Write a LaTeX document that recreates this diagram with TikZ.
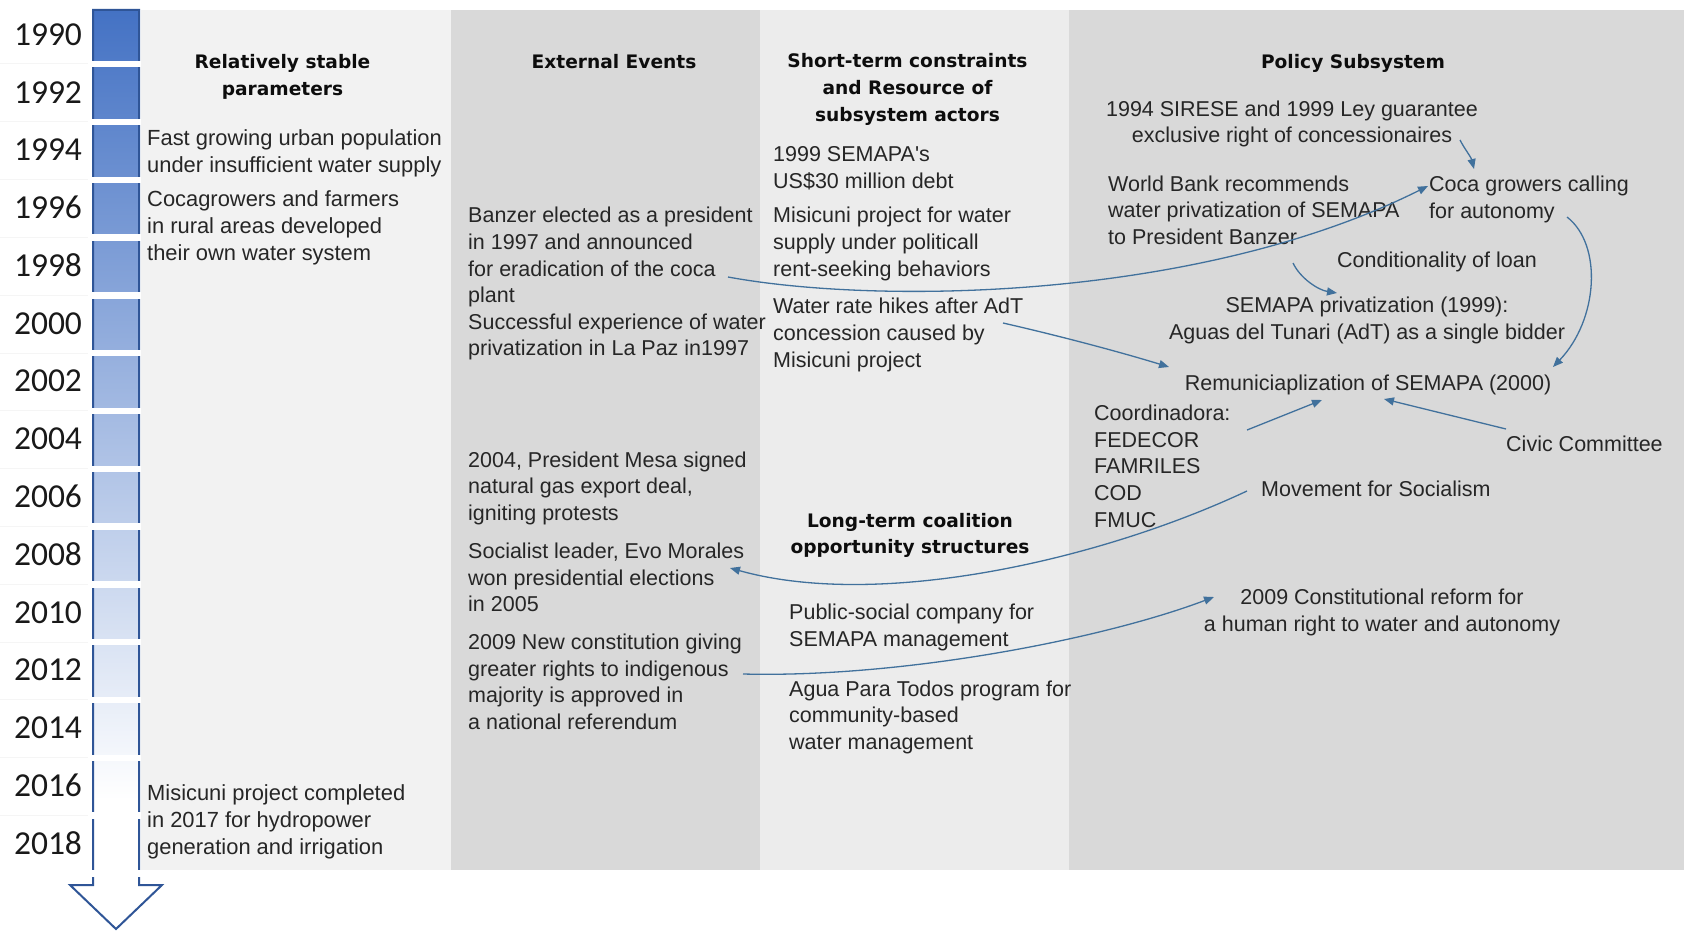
\documentclass[tikz,border=0pt]{standalone}
\usepackage{fontspec}
\setmainfont{Liberation Sans}
\newfontfamily\headfont{DejaVu Sans}
\newfontfamily\yearfont{Carlito}
\usetikzlibrary{arrows.meta}

\definecolor{paneA}{HTML}{F2F2F2}
\definecolor{paneB}{HTML}{D9D9D9}
\definecolor{paneC}{HTML}{ECECEC}
\definecolor{bodytext}{HTML}{262626}
\definecolor{linkblue}{HTML}{41719C}
\definecolor{barblue}{HTML}{4472C4}
\definecolor{baredge}{HTML}{2F5597}

% first-line struts, so every text block has the same top-to-baseline distance
\newcommand{\bodystrut}{\rule{0pt}{19pt}}
\newcommand{\headstrut}{\rule{0pt}{17pt}}

\tikzset{
  body/.style={font=\fontsize{21.5}{26.7}\selectfont, text=bodytext,
    inner sep=0pt, align=left, anchor=north west},
  bodywide/.style={body, font=\fontsize{21.9}{26.7}\selectfont},
  bodyc/.style={body, align=center, anchor=north},
  head/.style={font=\headfont\bfseries\fontsize{18.6}{26.7}\selectfont,
    text=black!95, inner sep=0pt, align=center, anchor=north},
  year/.style={font=\yearfont\fontsize{33.5}{40}\selectfont, text=black!90,
    inner sep=0pt},
  link/.style={draw=linkblue, line width=1.3pt,
    -{Triangle[length=10pt,width=8pt]}},
}

\begin{document}
\begin{tikzpicture}[x=1pt,y=-1pt]
\useasboundingbox (0,0) rectangle (1684,931);
\fill[white] (0,0) rectangle (1684,931);

% column panels
\fill[paneA] (141,10.5) rectangle (451,870);
\fill[paneB] (451,10.5) rectangle (760,870);
\fill[paneC] (760,10.5) rectangle (1069,870);
\fill[paneB] (1069,10.5) rectangle (1684,870);

% faint separators beside the year labels
\foreach \i in {0,...,13}
  \draw[black!4, line width=1pt] (0,{64+57.8*\i}) -- (92,{64+57.8*\i});

% timeline block arrow with fading fill
\begin{scope}
  \clip (93,10) -- (139,10) -- (139,885) -- (162,885) -- (116,929)
        -- (70,885) -- (93,885) -- cycle;
  \fill[white] (60,0) rectangle (170,931);
  \shade[top color=barblue, bottom color=white] (90,10) rectangle (142,800);
\end{scope}
\draw[baredge, line width=2pt, line join=miter]
  (93,10) -- (139,10) -- (139,885) -- (162,885) -- (116,929)
  -- (70,885) -- (93,885) -- cycle;
\foreach \i in {0,...,14}
  \fill[white] (88,{61+57.8*\i}) rectangle (141,{67.3+57.8*\i});

% year labels
\foreach \yr [count=\i from 0] in {1990,1992,1994,1996,1998,2000,2002,2004,
    2006,2008,2010,2012,2014,2016,2018}
  \node[year] (yr\yr) at (48,{34.4+57.8*\i}) {\yr};

% column headings
\node[head] (hstable) at (282.5,51.8) {\headstrut Relatively stable\\parameters};
\node[head] (hext) at (614,51.5) {\headstrut External Events};
\node[head] (hshort) at (907.5,50.8)
  {\headstrut Short-term constraints\\and Resource of\\subsystem actors};
\node[head] (hpolicy) at (1353,51.5) {\headstrut Policy Subsystem};
\node[head] (hlong) at (910,509.8)
  {\headstrut Long-term coalition\\opportunity structures};

% relatively stable parameters
\node[bodywide] (fastpop) at (147,126.5)
  {\bodystrut Fast growing urban population\\under insufficient water supply};
\node[bodywide] (cocafarm) at (147,187.5)
  {\bodystrut Cocagrowers and farmers\\in rural areas developed\\their own water system};
\node[bodywide] (misidone) at (147,781.5)
  {\bodystrut Misicuni project completed\\in 2017 for hydropower\\generation and irrigation};

% external events
\node[body] (banzer) at (468,203.5)
  {\bodystrut Banzer elected as a president\\in 1997 and announced\\for eradication of the coca\\plant};
\node[body] (lapaz) at (468,310)
  {\bodystrut Successful experience of water\\privatization in La Paz in1997};
\node[body] (mesa) at (468,447.8)
  {\bodystrut 2004, President Mesa signed\\natural gas export deal,\\igniting protests};
\node[body] (morales) at (468,539.2)
  {\bodystrut Socialist leader, Evo Morales\\won presidential elections\\in 2005};
\node[body] (newconst) at (468,630.2)
  {\bodystrut 2009 New constitution giving\\greater rights to indigenous\\majority is approved in\\a national referendum};

% short-term constraints and long-term structures
\node[body] (debt) at (773,142.5)
  {\bodystrut 1999 SEMAPA\textquotesingle s\\US\$30 million debt};
\node[body] (misiproj) at (773,203.5)
  {\bodystrut Misicuni project for water\\supply under politicall\\rent-seeking behaviors};
\node[body] (hikes) at (773,294.5)
  {\bodystrut Water rate hikes after AdT\\concession caused by\\Misicuni project};
\node[body] (pubsoc) at (789,600.2)
  {\bodystrut Public-social company for\\SEMAPA management};
\node[body] (apt) at (789,676.8)
  {\bodystrut Agua Para Todos program for\\community-based\\water management};

% policy subsystem
\node[bodyc] (sirese) at (1292,96.8)
  {\bodystrut 1994 SIRESE and 1999 Ley guarantee\\exclusive right of concessionaires};
\node[body] (worldbank) at (1108,171.8)
  {\bodystrut World Bank recommends\\water privatization of SEMAPA\\to President Banzer};
\node[body] (cocagrow) at (1429,172.5)
  {\bodystrut Coca growers calling\\for autonomy};
\node[body] (loan) at (1337,248.5) {\bodystrut Conditionality of loan};
\node[bodyc] (privat) at (1367,293.5)
  {\bodystrut SEMAPA privatization (1999):\\Aguas del Tunari (AdT) as a single bidder};
\node[bodyc] (remun) at (1368,371.2)
  {\bodystrut Remuniciaplization of SEMAPA (2000)};
\node[body] (coord) at (1094,401.2)
  {\bodystrut Coordinadora:\\FEDECOR\\FAMRILES\\COD\\FMUC};
\node[body] (civic) at (1506,431.8) {\bodystrut Civic Committee};
\node[body] (mas) at (1261,477.5) {\bodystrut Movement for Socialism};
\node[bodyc] (reform) at (1382,585.2)
  {\bodystrut 2009 Constitutional reform for\\a human right to water and autonomy};

% influence links
\draw[link] ([xshift=260pt,yshift=-73.5pt]banzer.north west)
  .. controls (880,305) and (1200,300) ..
  ([xshift=-1pt,yshift=-13.5pt]cocagrow.north west);
\draw[link] ([xshift=168pt,yshift=-43.2pt]sirese.north)
  .. controls (1464,148) and (1471,157) ..
  ([xshift=45pt,yshift=3.5pt]cocagrow.north west);
\draw[link] ([xshift=185pt,yshift=-91.2pt]worldbank.north west)
  .. controls (1300,278) and (1318,290) ..
  ([xshift=-30pt,yshift=0.5pt]privat.north);
\draw[link] ([xshift=138pt,yshift=-44.5pt]cocagrow.north west)
  .. controls (1603,245) and (1598,320) ..
  ([xshift=185pt,yshift=4.2pt]remun.north);
\draw[link] ([xshift=230pt,yshift=-28.5pt]hikes.north west)
  .. controls (1060,336) and (1120,352) ..
  ([xshift=-199pt,yshift=4.2pt]remun.north);
\draw[link] ([xshift=153pt,yshift=-28.8pt]coord.north west)
  -- ([xshift=-46pt,yshift=-28.8pt]remun.north);
\draw[link] ([yshift=2.8pt]civic.north west)
  -- ([xshift=16pt,yshift=-27.8pt]remun.north);
\draw[link] ([xshift=-14pt,yshift=-13.5pt]mas.north west)
  .. controls (1100,560) and (880,610) ..
  ([xshift=262pt,yshift=-28.8pt]morales.north west);
\draw[link] ([xshift=275pt,yshift=-43.8pt]newconst.north west)
  .. controls (900,678) and (1100,640) ..
  ([xshift=-168pt,yshift=-11.8pt]reform.north);
\end{tikzpicture}
\end{document}
